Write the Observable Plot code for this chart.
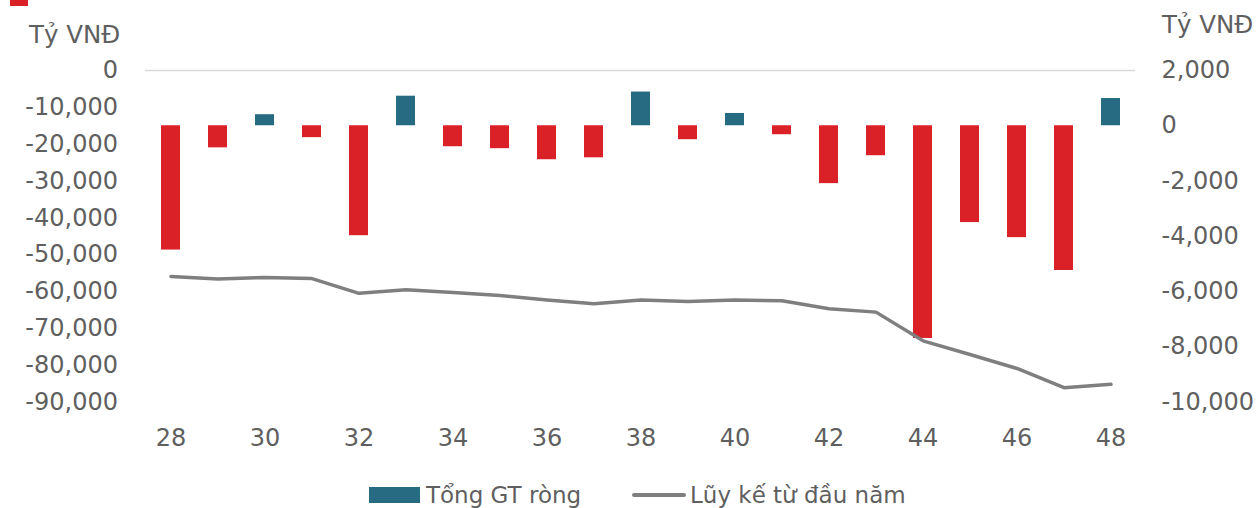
<!DOCTYPE html>
<html><head><meta charset="utf-8">
<script src="https://cdn.jsdelivr.net/npm/d3@7"></script>
<script src="https://cdn.jsdelivr.net/npm/@observablehq/plot@0.6"></script>
<style>
body{margin:0;background:#fff;}
#wrap{position:relative;width:1258px;height:508px;overflow:hidden;font-family:"DejaVu Sans",sans-serif;color:#5f5f5f;}
#chart{position:absolute;left:0;top:0;}
.unit{position:absolute;font-size:24.5px;line-height:25px;white-space:nowrap;}
.leg{position:absolute;font-size:23px;line-height:22px;white-space:nowrap;}
</style></head><body>
<div id="wrap">
  <div id="chart"></div>
  <div style="position:absolute;left:10px;top:-12px;width:18px;height:18px;background:#DA2128"></div>
  <div class="unit" id="unitLeft" style="left:29px;top:22px"></div>
  <div class="unit" id="unitRight" style="left:1162px;top:12px"></div>
  <div style="position:absolute;left:369px;top:487px;width:51px;height:16px;background:#276B82"></div>
  <div class="leg" id="leg1" style="left:426px;top:484px"></div>
  <div style="position:absolute;left:632px;top:493px;width:54px;height:4px;border-radius:2px;background:#7f7f7f"></div>
  <div class="leg" id="leg2" style="left:690px;top:484px"></div>
</div>
<script>
const weeks = [28,29,30,31,32,33,34,35,36,37,38,39,40,41,42,43,44,45,46,47,48];
const netValues = [-4500,-800,400,-430,-3980,1070,-760,-830,-1230,-1160,1220,-505,445,-325,-2095,-1085,-7700,-3505,-4050,-5240,985];
const cumulative = [-55900,-56600,-56200,-56500,-60500,-59500,-60300,-61100,-62300,-63300,-62300,-62700,-62300,-62500,-64700,-65600,-73400,-77100,-80900,-86100,-85200];
const leftTicks = [0,-10000,-20000,-30000,-40000,-50000,-60000,-70000,-80000,-90000];
const rightTicks = [2000,0,-2000,-4000,-6000,-8000,-10000];
const xTickLabels = [28,30,32,34,36,38,40,42,44,46,48];
const unitLabel = "Tỷ VNĐ";
const seriesNames = ["Tổng GT ròng","Lũy kế từ đầu năm"];
const teal = "#276B82", red = "#DA2128";

document.getElementById("unitLeft").textContent = unitLabel;
document.getElementById("unitRight").textContent = unitLabel;
document.getElementById("leg1").textContent = seriesNames[0];
document.getElementById("leg2").textContent = seriesNames[1];

const data = weeks.map((w,i)=>({week:w, net:netValues[i], cum:cumulative[i]}));
const toRight = v => v * (12000/90000) + 2000;
const fromRight = r => (r - 2000) * 7.5;
const fmt = v => (Math.round(v) + 0).toLocaleString("en-US");

const chart = Plot.plot({
  width:1258, height:460,
  marginTop:70, marginBottom:58.5, marginLeft:145, marginRight:123,
  style:{fontFamily:"DejaVu Sans", fontSize:"24px", color:"#5f5f5f", background:"white"},
  x:{type:"band", domain:weeks, paddingInner:0.6, paddingOuter:0.3},
  y:{domain:[-10000,2000]},
  color:{domain:["pos","neg"], range:[teal, red]},
  marks:[
    Plot.ruleY([2000],{stroke:"#d9d9d9", strokeWidth:1.3}),
    Plot.barY(data,{x:"week", y:"net", fill:d=>d.net>=0?"pos":"neg"}),
    Plot.line(data,{x:"week", y:d=>toRight(d.cum), stroke:"#7f7f7f", strokeWidth:3.5}),
    Plot.axisX({ticks:xTickLabels, tickSize:0, tickPadding:27, label:null}),
    Plot.axisY({anchor:"right", ticks:rightTicks, tickSize:0, tickPadding:26, tickFormat:fmt, label:null}),
    Plot.axisY({anchor:"left", ticks:leftTicks.map(toRight), tickSize:0, tickPadding:27.5, tickFormat:r=>fmt(fromRight(r)), label:null})
  ]
});
document.getElementById("chart").appendChild(chart);
</script>
</body></html>
